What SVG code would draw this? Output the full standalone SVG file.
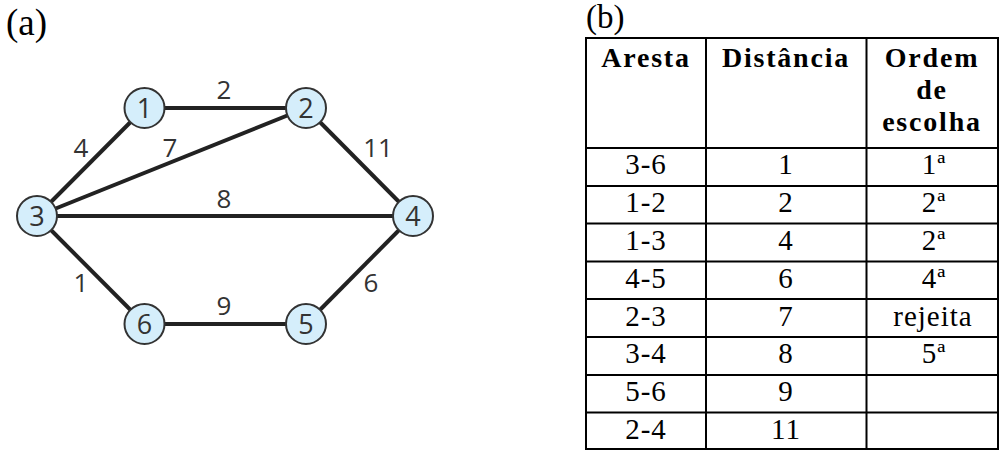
<svg xmlns="http://www.w3.org/2000/svg" width="1001" height="450" viewBox="0 0 1001 450">
<style>
.edge{stroke:#222;stroke-width:4;stroke-linecap:butt;fill:none}
.node circle{fill:#d5eefb;stroke:#333;stroke-width:2}
.nl{font-family:"Open Sans","Liberation Sans",sans-serif;font-size:27px;fill:#333;text-anchor:middle}
.el{font-family:"Open Sans","Liberation Sans",sans-serif;font-size:26px;fill:#333;text-anchor:middle}
.cap{font-family:"Liberation Serif",serif;fill:#000}
.grid line{stroke:#000;stroke-width:2}
.th{font-family:"Liberation Serif",serif;font-weight:bold;font-size:28px;letter-spacing:1.8px;text-anchor:middle;fill:#000}
.td{font-family:"Liberation Serif",serif;font-size:29px;letter-spacing:1px;text-anchor:middle;fill:#000}
</style>
<text class="cap" x="6" y="35" font-size="37">(a)</text>
<text class="cap" x="586" y="28" font-size="33">(b)</text>
<g id="connectors">
<line class="edge" x1="144.5" y1="108" x2="306" y2="108"/>
<line class="edge" x1="144.5" y1="108" x2="37" y2="216"/>
<line class="edge" x1="306" y1="108" x2="37" y2="216"/>
<line class="edge" x1="306" y1="108" x2="413" y2="216"/>
<line class="edge" x1="37" y1="216" x2="413" y2="216"/>
<line class="edge" x1="37" y1="216" x2="144.5" y2="324"/>
<line class="edge" x1="144.5" y1="324" x2="306" y2="324"/>
<line class="edge" x1="306" y1="324" x2="413" y2="216"/>
<text class="el" x="224" y="99">2</text>
<text class="el" x="81" y="157">4</text>
<text class="el" x="170" y="157">7</text>
<text class="el" x="378" y="157">11</text>
<text class="el" x="224" y="208">8</text>
<text class="el" x="81" y="292">1</text>
<text class="el" x="371" y="292">6</text>
<text class="el" x="224" y="315">9</text>
</g>
<g id="node1" class="node"><circle cx="144.5" cy="108" r="20"/><text class="nl" x="144.5" y="118">1</text></g>
<g id="node2" class="node"><circle cx="306" cy="108" r="20"/><text class="nl" x="306" y="118">2</text></g>
<g id="node3" class="node"><circle cx="37" cy="216" r="20"/><text class="nl" x="37" y="226">3</text></g>
<g id="node4" class="node"><circle cx="413" cy="216" r="20"/><text class="nl" x="413" y="226">4</text></g>
<g id="node5" class="node"><circle cx="306" cy="324" r="20"/><text class="nl" x="306" y="334">5</text></g>
<g id="node6" class="node"><circle cx="144.5" cy="324" r="20"/><text class="nl" x="144.5" y="334">6</text></g>
<g id="table">
<g class="grid">
<line x1="586" y1="38" x2="999" y2="38"/>
<line x1="586" y1="148" x2="999" y2="148"/>
<line x1="586" y1="186" x2="999" y2="186"/>
<line x1="586" y1="223.5" x2="999" y2="223.5"/>
<line x1="586" y1="261.5" x2="999" y2="261.5"/>
<line x1="586" y1="299" x2="999" y2="299"/>
<line x1="586" y1="337" x2="999" y2="337"/>
<line x1="586" y1="375" x2="999" y2="375"/>
<line x1="586" y1="412.5" x2="999" y2="412.5"/>
<line x1="586" y1="449" x2="999" y2="449"/>
<line x1="586" y1="37" x2="586" y2="450"/>
<line x1="706" y1="37" x2="706" y2="450"/>
<line x1="866.5" y1="37" x2="866.5" y2="450"/>
<line x1="998" y1="37" x2="998" y2="450"/>
</g>
<text class="th" x="646" y="67">Aresta</text>
<text class="th" x="786" y="67">Distância</text>
<text class="th" x="932" y="67">Ordem</text>
<text class="th" x="932" y="99">de</text>
<text class="th" x="932" y="131">escolha</text>
<g>
<text class="td" x="646" y="174">3-6</text><text class="td" x="786" y="174">1</text><text class="td" x="934" y="174">1ª</text>
<text class="td" x="646" y="212">1-2</text><text class="td" x="786" y="212">2</text><text class="td" x="934" y="212">2ª</text>
<text class="td" x="646" y="250">1-3</text><text class="td" x="786" y="250">4</text><text class="td" x="934" y="250">2ª</text>
<text class="td" x="646" y="288">4-5</text><text class="td" x="786" y="288">6</text><text class="td" x="934" y="288">4ª</text>
<text class="td" x="646" y="326">2-3</text><text class="td" x="786" y="326">7</text><text class="td" x="933" y="326">rejeita</text>
<text class="td" x="646" y="363">3-4</text><text class="td" x="786" y="363">8</text><text class="td" x="934" y="363">5ª</text>
<text class="td" x="646" y="401">5-6</text><text class="td" x="786" y="401">9</text>
<text class="td" x="646" y="439">2-4</text><text class="td" x="786" y="439">11</text>
</g>
</g>
</svg>
